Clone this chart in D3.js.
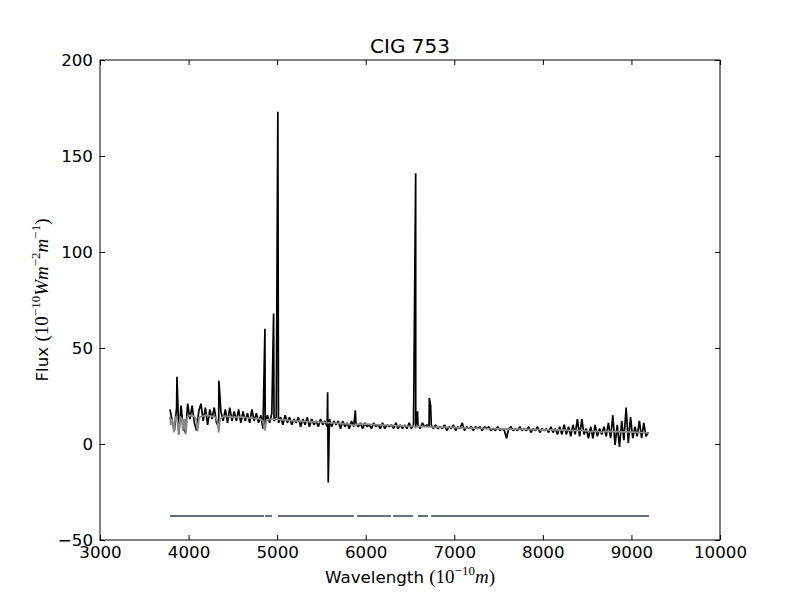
<!DOCTYPE html>
<html>
<head>
<meta charset="utf-8">
<script src="https://cdn.jsdelivr.net/npm/d3@7"></script>
<style>
  body { margin: 0; background: #fff; }
  svg { display: block; }
  .tick text { font-family: "DejaVu Sans", sans-serif; font-size: 16.7px; fill: #000; }
</style>
</head>
<body>
<div id="chart"></div>
<script>
// observed spectrum, sampled every 25 A starting at 3790 A
var waveStart = 3790;
var waveStep = 25;
var flux = [
  18, 12, 7, 19, 5, 20, 8, 6, 21, 13,
  20, 11, 7, 17, 21, 12, 19, 10, 18, 13,
  19, 11, 9, 17, 12, 18, 11, 19, 12, 17,
  12, 18, 11, 17, 12, 16, 11, 18, 12, 16,
  11, 15, 8, 10, 15, 11, 16, 12, 14, 11,
  14, 10, 15, 11, 14, 10, 13, 11, 14, 9,
  13, 10, 14, 9, 13, 10, 12, 9, 13, 10,
  12, 9, 13, 9, 12, 10, 12, 8, 12, 9,
  11, 8, 12, 9, 11, 9, 11, 8, 11, 9,
  10, 8, 11, 9, 10, 8, 11, 8, 10, 9,
  10, 8, 11, 8, 10, 8, 10, 8, 11, 8,
  10, 9, 10, 8, 11, 9, 10, 9, 10, 8,
  10, 8, 9, 8, 10, 7, 9, 8, 10, 7,
  9, 8, 11, 7, 9, 8, 9, 7, 9, 8,
  9, 7, 9, 8, 9, 7, 8, 7, 9, 7,
  8, 7, 3, 8, 9, 7, 8, 7, 9, 7,
  8, 7, 9, 6, 8, 7, 9, 6, 8, 7,
  8, 6, 9, 6, 8, 5, 9, 5, 10, 5,
  9, 4, 10, 5, 13, 4, 13, 5, 8, 3,
  9, 3, 10, 4, 8, 5, 9, 4, 11, 3,
  15, -0.5, 10, -1.5, 12, 2, 19, 0.5, 14, 3,
  9, 4, 12, 3, 11, 4, 6
];

// narrow emission lines (and the sky residual near 5577)
var lineWave = [3869, 4342, 4862, 4960, 5008, 5570, 5577, 5882, 6564, 6585, 6718, 6733];
var linePeak = [35, 33, 60, 68, 173, 27, -20, 17.5, 141, 17, 24, 20];

// fitted model (grey line)
var modelWave = [3790, 3800, 3815, 3835, 3850, 3870, 3889, 3905, 3925, 3934, 3950, 3968, 3985,
  4020, 4060, 4085, 4101, 4120, 4200, 4300, 4325, 4340, 4355, 4400, 4500, 4600, 4700, 4800,
  4840, 4861, 4880, 4950, 5100, 5175, 5200, 5400, 5600, 5800, 5890, 5900, 6000, 6200, 6400,
  6540, 6563, 6580, 6800, 7000, 7200, 7400, 7600, 7800, 8000, 8200, 8400, 8500, 8542, 8560,
  8662, 8700, 8800, 9000, 9200];
var modelFlux = [14, 10, 13, 6, 14, 13, 5, 14, 13, 7, 13, 5, 14,
  15, 14.5, 13, 6.5, 14, 15, 14, 12, 6, 13, 14.5, 14, 14, 13.5, 13.2,
  12, 7, 12.5, 13, 12.5, 12, 12, 11.5, 11, 10.5, 9.5, 10.3, 10.3, 9.8, 9.4,
  9.2, 8.5, 9.2, 8.8, 8.6, 8.3, 8, 7.8, 7.6, 7.4, 7.3, 7, 6.8, 6.2, 6.8,
  6.2, 6.6, 6.5, 6.2, 5.8];

// masked regions drawn along the bottom
var maskStart = [3790, 4863, 5010, 5902, 6308, 6590, 6737];
var maskEnd = [4852, 4942, 5868, 6286, 6534, 6703, 9198];
var maskLevel = -37.5;

var xTicks = [3000, 4000, 5000, 6000, 7000, 8000, 9000, 10000];
var yTicks = [-50, 0, 50, 100, 150, 200];

var margin = { top: 60, right: 80, bottom: 60, left: 100 };
var width = 800 - margin.left - margin.right;
var height = 600 - margin.top - margin.bottom;

var svg = d3.select("#chart").append("svg")
    .attr("width", 800)
    .attr("height", 600);

var g = svg.append("g")
    .attr("transform", "translate(" + margin.left + "," + margin.top + ")");

var x = d3.scaleLinear().domain([3000, 10000]).range([0, width]);
var y = d3.scaleLinear().domain([-50, 200]).range([height, 0]);

// merge the sampled spectrum with the line peaks
var points = flux.map(function (f, i) {
  return [waveStart + i * waveStep, f];
});
lineWave.forEach(function (w, i) {
  points.push([w, linePeak[i]]);
});
points.sort(function (a, b) { return a[0] - b[0]; });

var line = d3.line()
    .x(function (d) { return x(d[0]); })
    .y(function (d) { return y(d[1]); });

g.append("clipPath").attr("id", "clip")
    .append("rect").attr("width", width).attr("height", height);

var plot = g.append("g").attr("clip-path", "url(#clip)");

plot.append("path")
    .datum(points)
    .attr("fill", "none")
    .attr("stroke", "#000")
    .attr("stroke-width", 1.7)
    .attr("stroke-linejoin", "bevel")
    .attr("d", line);

plot.append("path")
    .datum(modelWave.map(function (w, i) { return [w, modelFlux[i]]; }))
    .attr("fill", "none")
    .attr("stroke", "#8a8a8a")
    .attr("stroke-width", 1.8)
    .attr("d", line);

plot.selectAll(".mask")
    .data(maskStart)
    .enter()
    .append("line")
    .attr("class", "mask")
    .attr("x1", function (d) { return x(d); })
    .attr("x2", function (d, i) { return x(maskEnd[i]); })
    .attr("y1", y(maskLevel))
    .attr("y2", y(maskLevel))
    .attr("stroke", "#647479")
    .attr("stroke-width", 2);

// axes, ticks pointing inwards on all four sides
var tickLen = 5;
var fmt = d3.format("d");

g.append("g")
    .attr("transform", "translate(0," + height + ")")
    .call(d3.axisBottom(x).tickValues(xTicks).tickFormat(fmt).tickSize(-tickLen).tickSizeOuter(0).tickPadding(6));

g.append("g")
    .call(d3.axisTop(x).tickValues(xTicks).tickSize(-tickLen).tickSizeOuter(0).tickFormat(""));

g.append("g")
    .call(d3.axisLeft(y).tickValues(yTicks).tickFormat(fmt).tickSize(-tickLen).tickSizeOuter(0).tickPadding(7));

g.append("g")
    .attr("transform", "translate(" + width + ",0)")
    .call(d3.axisRight(y).tickValues(yTicks).tickSize(-tickLen).tickSizeOuter(0).tickFormat(""));

g.selectAll(".domain").remove();
g.selectAll(".tick line").attr("stroke", "#000");

g.append("rect")
    .attr("width", width)
    .attr("height", height)
    .attr("fill", "none")
    .attr("stroke", "#000")
    .attr("stroke-width", 1);

// title
svg.append("text")
    .attr("x", margin.left + width / 2)
    .attr("y", 53)
    .attr("text-anchor", "middle")
    .style("font-family", "DejaVu Sans, sans-serif")
    .style("font-size", "20px")
    .text("CIG 753");

// x label: Wavelength (10^-10 m)
var sans = "DejaVu Sans, sans-serif";
var serif = "Liberation Serif, DejaVu Serif, serif";

var xl = svg.append("text")
    .attr("x", margin.left + width / 2)
    .attr("y", 583)
    .attr("text-anchor", "middle")
    .style("font-size", "16.7px");
xl.append("tspan").style("font-family", sans).text("Wavelength ");
xl.append("tspan").style("font-family", serif).style("font-size", "19px").text("(10");
xl.append("tspan").style("font-family", serif).style("font-size", "13px").attr("dy", -8).text("\u221210");
xl.append("tspan").style("font-family", serif).style("font-size", "19px").style("font-style", "italic").attr("dy", 8).text("m");
xl.append("tspan").style("font-family", serif).style("font-size", "19px").text(")");

// y label: Flux (10^-10 W m^-2 m^-1)
var yl = svg.append("text")
    .attr("transform", "translate(48," + (margin.top + height / 2) + ") rotate(-90)")
    .attr("text-anchor", "middle")
    .style("font-size", "16.7px");
yl.append("tspan").style("font-family", sans).text("Flux ");
yl.append("tspan").style("font-family", serif).style("font-size", "19px").text("(10");
yl.append("tspan").style("font-family", serif).style("font-size", "13px").attr("dy", -8).text("\u221210");
yl.append("tspan").style("font-family", serif).style("font-size", "19px").style("font-style", "italic").attr("dy", 8).text("Wm");
yl.append("tspan").style("font-family", serif).style("font-size", "13px").attr("dy", -8).text("\u22122");
yl.append("tspan").style("font-family", serif).style("font-size", "19px").style("font-style", "italic").attr("dy", 8).text("m");
yl.append("tspan").style("font-family", serif).style("font-size", "13px").attr("dy", -8).text("\u22121");
yl.append("tspan").style("font-family", serif).style("font-size", "19px").attr("dy", 8).text(")");
</script>
</body>
</html>
